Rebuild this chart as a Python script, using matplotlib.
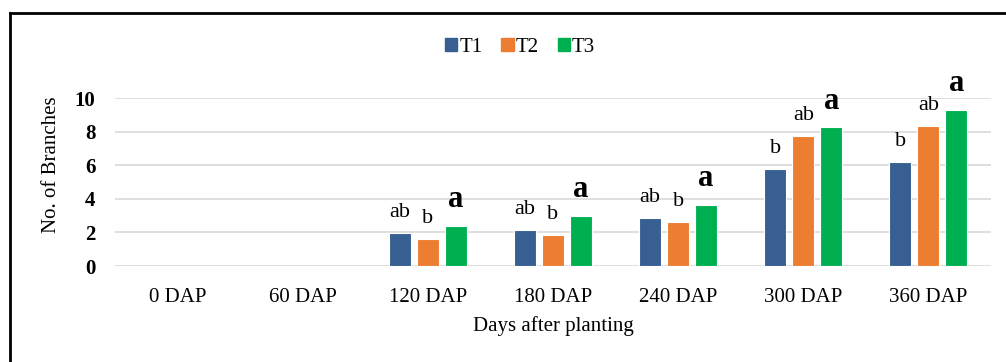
import matplotlib.pyplot as plt
import numpy as np
from matplotlib.lines import Line2D
from matplotlib.patches import Patch

plt.rcParams['font.family'] = ['Liberation Serif', 'DejaVu Serif']

# データ
days = ['0 DAP', '60 DAP', '120 DAP', '180 DAP', '240 DAP', '300 DAP', '360 DAP']
t1 = [0, 0, 1.95, 2.14, 2.84, 5.75, 6.19]
t2 = [0, 0, 1.60, 1.84, 2.60, 7.74, 8.33]
t3 = [0, 0, 2.38, 2.98, 3.61, 8.25, 9.27]
t1_sig = ['', '', 'ab', 'ab', 'ab', 'b', 'b']
t2_sig = ['', '', 'b', 'b', 'b', 'ab', 'ab']
t3_sig = ['', '', 'a', 'a', 'a', 'a', 'a']
series = ['T1', 'T2', 'T3']
colors = ['#375F92', '#ED7D31', '#00B050']

fig = plt.figure(figsize=(10.06, 3.62), dpi=100)
ax = fig.add_axes([115 / 1006, 1 - 266 / 362, (991 - 115) / 1006, (266 - 98) / 362])

x = np.arange(len(days))
step = 0.224
w = 0.176
for i, (vals, sig) in enumerate(zip([t1, t2, t3], [t1_sig, t2_sig, t3_sig])):
    xs = x + (i - 1) * step
    ax.bar(xs, vals, w, color=colors[i], edgecolor='white', linewidth=0.8, zorder=3)
    for xx, v, s in zip(xs, vals, sig):
        if not s:
            continue
        if s == 'a':
            ax.annotate(s, (xx, v), xytext=(0, 19), textcoords='offset points',
                        ha='center', va='center', fontsize=22, fontweight='bold')
        else:
            ax.annotate(s, (xx, v), xytext=(0, 15), textcoords='offset points',
                        ha='center', va='center', fontsize=16)

ax.set_xlim(-0.5, 6.5)
ax.set_ylim(0, 10)
ax.set_yticks(range(0, 11, 2))
ax.set_xticks(x)
ax.set_xticklabels(days, fontsize=15)
for lab in ax.get_yticklabels():
    lab.set_fontsize(15)
    lab.set_fontweight('bold')
ax.tick_params(axis='x', length=0, pad=16)
ax.tick_params(axis='y', length=0, pad=14)
ax.grid(axis='y', color='#D9D9D9', linewidth=1.2, zorder=0)
for sp in ax.spines.values():
    sp.set_visible(False)

fig.text(51 / 1006, 1 - 165 / 362, 'No. of Branches', rotation=90, ha='center', va='center', fontsize=15)
fig.text(553 / 1006, 1 - 326 / 362, 'Days after planting', ha='center', va='center', fontsize=15)

handles = [Patch(color=c) for c in colors]
fig.legend(handles, series, loc='center', bbox_to_anchor=(520 / 1006, 1 - 47 / 362), ncol=3,
           frameon=False, fontsize=15, handlelength=0.6, handleheight=0.6,
           handletextpad=0.1, columnspacing=0.9)

# 枠線
fig.add_artist(Line2D([10 / 1006, 10 / 1006], [0, 1 - 13 / 362], color='black', linewidth=2))
fig.add_artist(Line2D([10 / 1006, 1], [1 - 13 / 362, 1 - 13 / 362], color='black', linewidth=2))

fig.savefig('out.png', dpi=100)
